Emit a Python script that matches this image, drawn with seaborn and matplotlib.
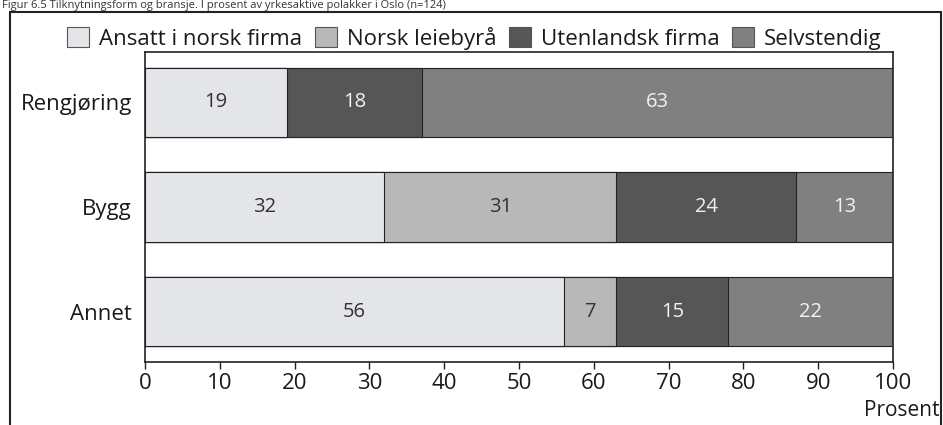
import matplotlib
matplotlib.use("Agg")
import matplotlib.pyplot as plt
from matplotlib.patches import Patch, Rectangle
import seaborn as sns
import pandas as pd
import numpy as np

# Data (percent)
branches = ["Rengjøring", "Bygg", "Annet"]
series = ["Ansatt i norsk firma", "Norsk leiebyrå", "Utenlandsk firma", "Selvstendig"]
ansatt_norsk = [19, 32, 56]
norsk_leiebyra = [0, 31, 7]
utenlandsk = [18, 24, 15]
selvstendig = [63, 13, 22]

colors = ["#e3e5e8", "#b8b8b8", "#565656", "#808080"]
text_colors = ["#333333", "#333333", "#f2f2f2", "#f2f2f2"]

values = [ansatt_norsk, norsk_leiebyra, utenlandsk, selvstendig]
df = pd.DataFrame(dict(zip(series, values)), index=branches)
cum = df.cumsum(axis=1)

sns.set_style("white")
plt.rcParams["font.family"] = ["Open Sans", "DejaVu Sans"]

fig = plt.figure(figsize=(9.43, 4.25), dpi=100)
ax = fig.add_axes([0.1538, 0.148, 0.7932, 0.730])

# stacked bars: draw cumulative totals from the right-most series back
for i in range(len(series) - 1, -1, -1):
    d = pd.DataFrame({"branch": branches, "value": cum[series[i]].values})
    sns.barplot(data=d, x="value", y="branch", orient="h", color=colors[i],
                saturation=1, width=0.66, edgecolor="#222222", linewidth=0.8, ax=ax)

# value labels
for j, b in enumerate(branches):
    left = 0
    for i, s in enumerate(series):
        v = df.loc[b, s]
        if v > 0:
            ax.text(left + v / 2, j, str(v), ha="center", va="center",
                    fontsize=14.5, color=text_colors[i])
        left += v

ax.set_xlim(0, 100)
ax.set_ylim(2.48, -0.48)
ax.set_xticks(np.arange(0, 101, 10))
ax.set_xlabel("")
ax.set_ylabel("")
ax.tick_params(axis="x", bottom=True, length=5, width=1, color="#222222",
               labelsize=16, labelcolor="#1a1a1a", pad=3)
ax.tick_params(axis="y", left=False, labelsize=16, labelcolor="#1a1a1a", pad=6)
for sp in ax.spines.values():
    sp.set_color("#222222")
    sp.set_linewidth(1.2)
ax.text(1.0 + 46 / 748, -0.155, "Prosent", transform=ax.transAxes,
        ha="right", va="center", fontsize=15, color="#1a1a1a")

# legend
handles = [Patch(facecolor=c, edgecolor="#555555", linewidth=0.8) for c in colors]
fig.legend(handles, series, loc="center", bbox_to_anchor=(0.503, 0.91), ncol=4,
           frameon=False, fontsize=16, handlelength=1.0, handleheight=1.05,
           handletextpad=0.45, columnspacing=0.55, labelcolor="#1a1a1a")

# outer frame of the figure box
fig.patches.append(Rectangle((10 / 943, -0.05), 931 / 943, 1.0 - 12 / 425 + 0.05,
                             transform=fig.transFigure, fill=False,
                             edgecolor="#222222", linewidth=1.5))

# title, squeezed into the strip above the frame
fig.text(0.002, 0.999, "Figur 6.5 Tilknytningsform og bransje. I prosent av yrkesaktive polakker i Oslo (n=124)",
         ha="left", va="top", fontsize=8, color="#333333")

fig.savefig("out.png", dpi=100)
